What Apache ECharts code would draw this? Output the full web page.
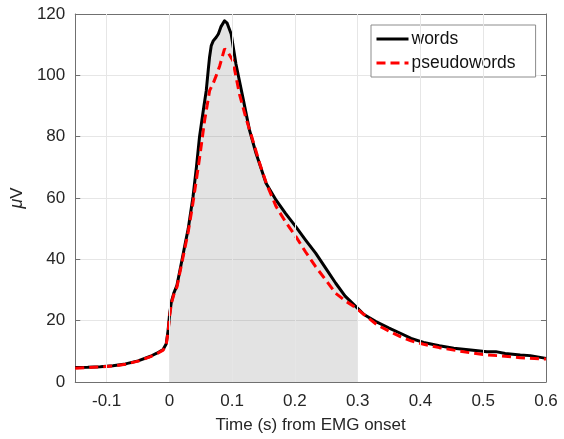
<!DOCTYPE html>
<html>
<head>
<meta charset="utf-8">
<script src="https://cdn.jsdelivr.net/npm/echarts@6/dist/echarts.min.js"></script>
<style>html,body{margin:0;padding:0;background:#fff}#c{width:564px;height:439px}</style>
</head>
<body>
<div id="c"></div>
<script>
// Time (s) from EMG onset and amplitude (µV)
const wordsT = [-0.15,-0.13,-0.11,-0.09,-0.07,-0.05,-0.03,-0.02,-0.01,-0.005,-0.002,0,0.003,0.007,0.012,0.019,0.025,0.03,0.0376,0.043,0.048,0.0508,0.055,0.0587,0.062,0.064,0.0667,0.07,0.0746,0.078,0.082,0.0878,0.092,0.0984,0.106,0.117,0.1275,0.138,0.154,0.17,0.185,0.2016,0.217,0.233,0.25,0.265,0.28,0.3,0.31,0.329,0.35,0.368,0.385,0.405,0.43,0.453,0.48,0.506,0.52,0.535,0.559,0.575,0.6];
const wordsV = [4.7,4.8,5.0,5.3,5.9,6.9,8.4,9.4,10.6,12.5,17,21.5,26,29,31.5,38.7,45,50,60.4,70,80,84,90,95,102,106,109.7,111.3,112.4,113.5,115.8,117.8,117,113.5,103.7,92.8,82.2,74.6,64.8,59.3,55,50.6,46.3,42,36.8,32.2,28,24.0,22,19.7,17.6,15.9,14.2,12.9,11.8,11,10.4,9.9,9.9,9.3,8.8,8.6,7.7];
const pseudoT = [-0.15,-0.13,-0.11,-0.09,-0.07,-0.05,-0.03,-0.02,-0.01,-0.005,-0.002,0,0.003,0.007,0.012,0.019,0.025,0.03,0.0376,0.043,0.048,0.052,0.056,0.06,0.064,0.07,0.0746,0.08,0.0878,0.092,0.101,0.1116,0.122,0.133,0.145,0.155,0.17,0.185,0.2016,0.217,0.233,0.25,0.265,0.28,0.297,0.31,0.331,0.35,0.368,0.385,0.405,0.43,0.453,0.48,0.506,0.53,0.559,0.6];
const pseudoV = [4.5,4.7,4.9,5.2,5.8,6.8,8.3,9.2,10.4,12.3,16.5,21,25.5,28.5,31,38,44,49,58.5,66,73,79,85.2,90,95,97.5,99.9,103,108.6,108,104.8,93.9,86,78.7,70.5,64.5,57.2,52.2,47.4,42.4,37.6,33,28.9,26.5,24.2,22,18.6,16.6,14.8,13.4,12.3,11.2,10.4,9.5,8.8,8.5,7.9,7.5];
const shadeStart = 0, shadeEnd = 0.3;
const xTicks = [-0.1,0,0.1,0.2,0.3,0.4,0.5,0.6];
const yTicks = [0,20,40,60,80,100,120];
const seriesNames = ['words','pseudowords'];

const pair = (t, v) => t.map((x, i) => [x, v[i]]);
const wordsData = pair(wordsT, wordsV);
const pseudoData = pair(pseudoT, pseudoV);
const shadeData = wordsData.filter(d => d[0] >= shadeStart && d[0] <= shadeEnd);

const FONT = "'Liberation Sans', Arial, Helvetica, sans-serif";
const TXT = '#262626';
const AX = '#707070';
const GRIDC = '#e6e6e6';

const chart = echarts.init(document.getElementById('c'), null, {renderer: 'canvas'});
chart.setOption({
  animation: false,
  backgroundColor: '#fff',
  textStyle: {fontFamily: FONT},
  grid: {left: 73, right: 18, top: 14, bottom: 57, show: false},
  legend: {
    data: seriesNames,
    orient: 'vertical',
    left: 371, top: 25,
    padding: [4, 20, 4, 4],
    itemWidth: 32, itemHeight: 14, itemGap: 4,
    itemStyle: {opacity: 0},
    lineStyle: {width: 3},
    backgroundColor: '#fff',
    borderColor: '#8c8c8c', borderWidth: 1, borderRadius: 0,
    textStyle: {fontFamily: FONT, fontSize: 17.5, color: '#111', lineHeight: 20, padding: [0,0,0,-2]}
  },
  xAxis: [{
    type: 'value', min: -0.15, max: 0.6,
    name: 'Time (s) from EMG onset', nameLocation: 'middle', nameGap: 35,
    nameTextStyle: {fontFamily: FONT, fontSize: 17, color: TXT},
    axisLine: {show: true, onZero: false, lineStyle: {color: AX, width: 1}},
    axisTick: {show: true, inside: true, length: 5, customValues: xTicks, lineStyle: {color: AX}},
    axisLabel: {show: true, customValues: xTicks, fontFamily: FONT, fontSize: 17, color: TXT, margin: 11,
      formatter: v => String(Math.round(v * 10) / 10)},
    splitLine: {show: false}
  }, {
    type: 'value', min: -0.15, max: 0.6, position: 'top',
    axisLine: {show: true, onZero: false, lineStyle: {color: AX, width: 1}},
    axisTick: {show: true, inside: true, length: 5, customValues: xTicks, lineStyle: {color: AX}},
    axisLabel: {show: false}, splitLine: {show: false}
  }],
  yAxis: [{
    type: 'value', min: 0, max: 120, interval: 20,
    name: '{i|μ}V', nameLocation: 'middle', nameGap: 37, nameRotate: 90,
    nameTextStyle: {fontFamily: FONT, fontSize: 17, color: TXT,
      rich: {i: {fontFamily: FONT, fontSize: 18, fontStyle: 'italic', color: TXT}}},
    axisLine: {show: true, onZero: false, lineStyle: {color: AX, width: 1}},
    axisTick: {show: true, inside: true, length: 5, lineStyle: {color: AX}},
    axisLabel: {fontFamily: FONT, fontSize: 17, color: TXT, margin: 10},
    splitLine: {show: true, lineStyle: {color: GRIDC, width: 1}}
  }, {
    type: 'value', min: 0, max: 120, interval: 20, position: 'right',
    axisLine: {show: true, onZero: false, lineStyle: {color: AX, width: 1}},
    axisTick: {show: true, inside: true, length: 5, lineStyle: {color: AX}},
    axisLabel: {show: false}, splitLine: {show: false}
  }],
  series: [{
    name: 'xgrid', type: 'line', data: [], silent: true, z: 0,
    markLine: {silent: true, symbol: ['none','none'], animation: false,
      label: {show: false},
      lineStyle: {color: GRIDC, type: 'solid', width: 1},
      data: xTicks.filter(v => v > -0.15 && v < 0.6).map(v => ({xAxis: v}))}
  }, {
    name: 'shade', type: 'line', data: shadeData, symbol: 'none', silent: true, z: 1,
    lineStyle: {width: 0, opacity: 0},
    areaStyle: {color: 'rgba(100,100,100,0.26)', origin: 'start'}
  }, {
    name: 'words', type: 'line', data: wordsData, symbol: 'none', z: 3,
    color: '#000', lineStyle: {color: '#000', width: 3, join: 'round'}
  }, {
    name: 'pseudowords', type: 'line', data: pseudoData, symbol: 'none', z: 4,
    color: '#ff0000', lineStyle: {color: '#ff0000', width: 3, type: [9, 5]}
  }]
});
</script>
</body>
</html>
